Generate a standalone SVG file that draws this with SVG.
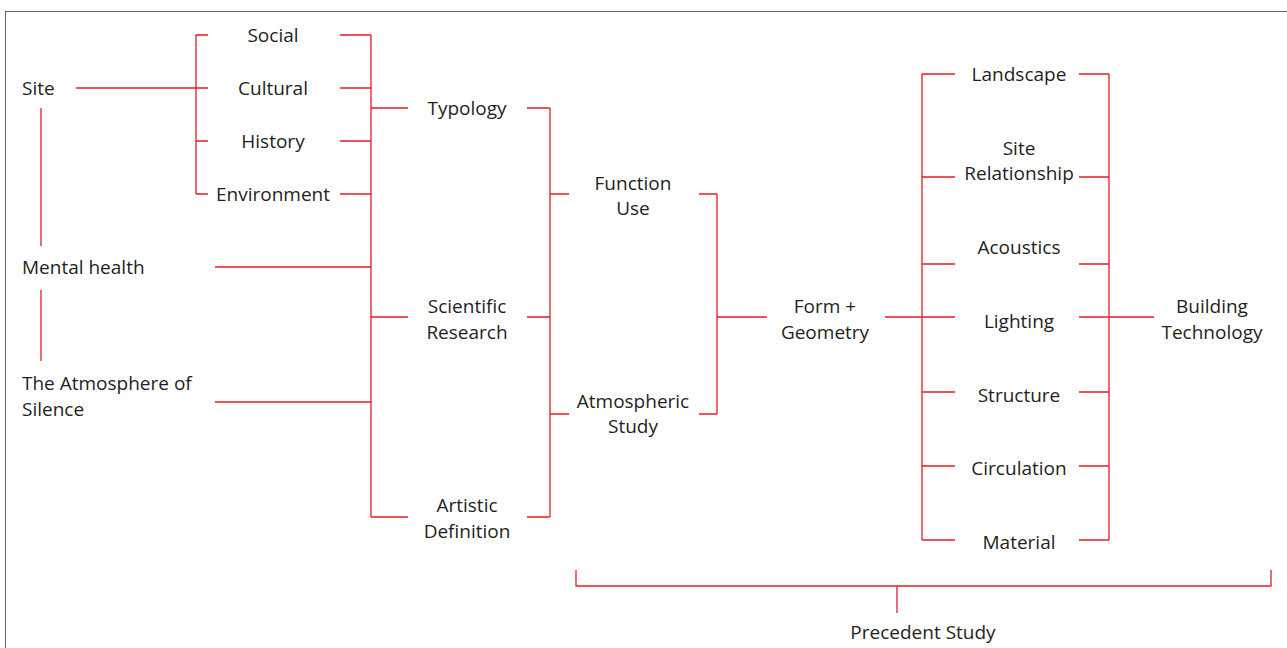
<svg xmlns="http://www.w3.org/2000/svg" width="1287" height="648" viewBox="0 0 1287 648">
<style>
.t{font-family:"Open Sans","Noto Sans","Liberation Sans",sans-serif;font-size:19px;fill:#231f20}
.m{text-anchor:middle}
.c{stroke:#e31c25;stroke-width:1.3;fill:none}
</style>
<rect x="5.5" y="11.5" width="1300" height="660" fill="#fff" stroke="#666" stroke-width="1"/>
<g id="connectors" class="c">
<path d="M76 88H208M196 35V194M196 35H208M196 141H208M196 194H208"/>
<path d="M41 108V246M41 290V361"/>
<path d="M340 35H371M340 88H371M340 141H371M340 194H371M371 35V517M371 108H408M215 267H371M371 317H408M215 402H371M371 517H408"/>
<path d="M527 108H550M527 317H550M527 517H550M550 108V517M550 194H569M550 414H569"/>
<path d="M699 194H717M699 414H717M717 194V414M717 317H767"/>
<path d="M885 317H955M922 74V540M922 74H955M922 177H955M922 264H955M922 392H955M922 466H955M922 540H955"/>
<path d="M1079 74H1109M1079 177H1109M1079 264H1109M1079 317H1154M1079 392H1109M1079 466H1109M1079 540H1109M1109 74V540"/>
<path d="M576 570V586H1271V570M897 586V613"/>
</g>
<g id="site"><text class="t" x="22" y="95">Site</text></g>
<g id="mental"><text class="t" x="22" y="274">Mental health</text></g>
<g id="atmosphere"><text class="t" x="22" y="390">The Atmosphere of</text><text class="t" x="22" y="416">Silence</text></g>
<g id="social"><text class="t m" x="273" y="42">Social</text></g>
<g id="cultural"><text class="t m" x="273" y="95">Cultural</text></g>
<g id="history"><text class="t m" x="273" y="148">History</text></g>
<g id="environment"><text class="t m" x="273" y="201">Environment</text></g>
<g id="typology"><text class="t m" x="467" y="115">Typology</text></g>
<g id="scientific"><text class="t m" x="467" y="313">Scientific</text><text class="t m" x="467" y="339">Research</text></g>
<g id="artistic"><text class="t m" x="467" y="512">Artistic</text><text class="t m" x="467" y="538">Definition</text></g>
<g id="function"><text class="t m" x="633" y="190">Function</text><text class="t m" x="633" y="215">Use</text></g>
<g id="atmospheric"><text class="t m" x="633" y="408">Atmospheric</text><text class="t m" x="633" y="433">Study</text></g>
<g id="form"><text class="t m" x="825" y="313">Form +</text><text class="t m" x="825" y="339">Geometry</text></g>
<g id="landscape"><text class="t m" x="1019" y="81">Landscape</text></g>
<g id="siterel"><text class="t m" x="1019" y="155">Site</text><text class="t m" x="1019" y="180">Relationship</text></g>
<g id="acoustics"><text class="t m" x="1019" y="254">Acoustics</text></g>
<g id="lighting"><text class="t m" x="1019" y="328">Lighting</text></g>
<g id="structure"><text class="t m" x="1019" y="402">Structure</text></g>
<g id="circulation"><text class="t m" x="1019" y="475">Circulation</text></g>
<g id="material"><text class="t m" x="1019" y="549">Material</text></g>
<g id="building"><text class="t m" x="1212" y="313">Building</text><text class="t m" x="1212" y="339">Technology</text></g>
<g id="precedent"><text class="t m" x="923" y="639">Precedent Study</text></g>
</svg>
